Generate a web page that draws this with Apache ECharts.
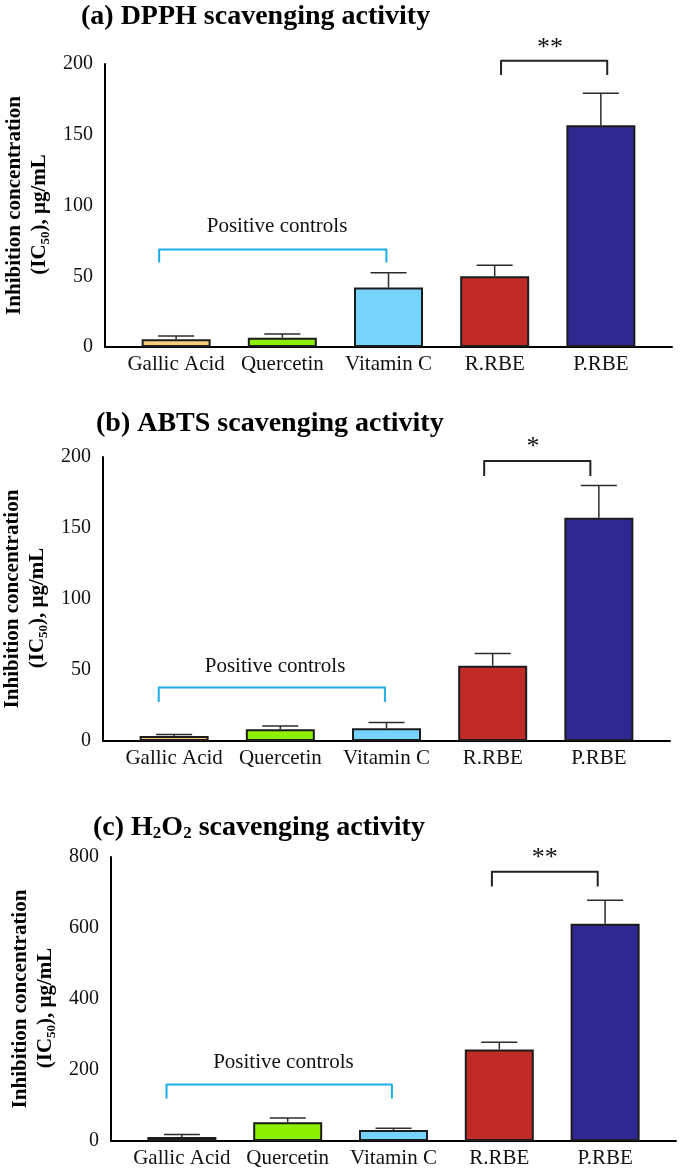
<!DOCTYPE html>
<html><head><meta charset="utf-8">
<script src="https://cdn.jsdelivr.net/npm/echarts@6/dist/echarts.min.js"></script>
<style>html,body{margin:0;padding:0;background:#fff}#c{width:680px;height:1170px}</style>
</head><body><div id="c"></div>
<script>
// ---------- data ----------
const categories = ['Gallic Acid', 'Quercetin', 'Vitamin C', 'R.RBE', 'P.RBE'];
const barColors = ['#FBCF7C', '#8DF000', '#76D4FC', '#C02A27', '#2E2891'];

const dpphMean = [5.5, 6.6, 42, 50, 156.8];
const dpphErr  = [2.3, 2.6, 10.4, 7.8, 22.5];
const abtsMean = [3.5, 8.2, 9, 53, 157.3];
const abtsErr  = [1.0, 2.4, 4.0, 8.7, 22.6];
const h2o2Mean = [11, 53, 31, 258, 612];
const h2o2Err  = [7, 12, 5, 20, 66];

const yMaxSmall = 200, yStepSmall = 50;
const yMaxBig = 800, yStepBig = 200;

// brackets: [xStart, xEnd, yBar, yLegEnd]
const dpphSig = [3.06, 4.06, 202.3, 192.2];
const abtsSig = [2.92, 3.92, 197.2, 186.6];
const h2o2Sig = [2.93, 3.93, 758.5, 717];
const dpphCtrl = [-0.16, 1.98, 68.9, 59.7];
const abtsCtrl = [-0.145, 1.985, 37.6, 27.5];
const h2o2Ctrl = [-0.145, 1.985, 159, 119.7];
// labels: [text, x, y]
const dpphSigText = ['**', 3.52, 211];
const abtsSigText = ['*', 3.38, 207];
const h2o2SigText = ['**', 3.43, 798];
const dpphCtrlText = ['Positive controls', 0.95, 85];
const abtsCtrlText = ['Positive controls', 0.95, 52.6];
const h2o2CtrlText = ['Positive controls', 0.96, 220];

const titles = [
  '(a) DPPH scavenging activity',
  '(b) ABTS scavenging activity',
  '{t|(c) H}{s|2}{t|O}{s|2}{t| scavenging activity}'
];

// ---------- helpers ----------
const FONT = 'Liberation Serif';
const panels = [
  {mean: dpphMean, err: dpphErr, max: yMaxSmall, step: yStepSmall, sig: dpphSig, sigText: dpphSigText, ctrl: dpphCtrl, ctrlText: dpphCtrlText,
   grid: {left: 105, top: 64, width: 567, height: 283}, title: {left: 81, top: 3}},
  {mean: abtsMean, err: abtsErr, max: yMaxSmall, step: yStepSmall, sig: abtsSig, sigText: abtsSigText, ctrl: abtsCtrl, ctrlText: abtsCtrlText,
   grid: {left: 103, top: 457, width: 567, height: 284}, title: {left: 96, top: 410}},
  {mean: h2o2Mean, err: h2o2Err, max: yMaxBig, step: yStepBig, sig: h2o2Sig, sigText: h2o2SigText, ctrl: h2o2Ctrl, ctrlText: h2o2CtrlText,
   grid: {left: 111, top: 857, width: 565, height: 284}, title: {left: 93, top: 813}}
];

function errRender(params, api) {
  const x = api.value(0), m = api.value(1), e = api.value(2);
  const p0 = api.coord([x, m]), p1 = api.coord([x, m + e]);
  const hw = 18;
  const st = {stroke: '#2b2b2b', lineWidth: 1.5};
  return {type: 'group', children: [
    {type: 'line', shape: {x1: p0[0], y1: p0[1], x2: p1[0], y2: p1[1]}, style: st},
    {type: 'line', shape: {x1: p1[0] - hw, y1: p1[1], x2: p1[0] + hw, y2: p1[1]}, style: st}
  ]};
}
function bracketRender(color) {
  return function (params, api) {
    const x1 = api.value(0), x2 = api.value(1), yt = api.value(2), yl = api.value(3);
    const pts = [api.coord([x1, yl]), api.coord([x1, yt]), api.coord([x2, yt]), api.coord([x2, yl])];
    return {type: 'polyline', shape: {points: pts}, style: {stroke: color, lineWidth: 2, fill: null, lineJoin: 'round'}};
  };
}
function textRender(label, fontSize) {
  return function (params, api) {
    const p = api.coord([label[1], label[2]]);
    return {type: 'text', x: p[0], y: p[1], style: {text: label[0], fill: '#111', align: 'center', verticalAlign: 'middle',
      font: fontSize + 'px "' + FONT + '"'}};
  };
}

const option = {
  animation: false,
  backgroundColor: '#fff',
  title: [], grid: [], xAxis: [], yAxis: [], series: []
};

panels.forEach((p, i) => {
  option.title.push({
    text: titles[i], left: p.title.left, top: p.title.top, padding: 0,
    textStyle: {fontFamily: FONT, fontWeight: 'bold', fontSize: 28, color: '#000',
      rich: {t: {fontFamily: FONT, fontWeight: 'bold', fontSize: 28, color: '#000'},
             s: {fontFamily: FONT, fontWeight: 'bold', fontSize: 17, color: '#000', verticalAlign: 'bottom', padding: [12, 0, 0, 0]}}}
  });
  option.grid.push(Object.assign({containLabel: false, outerBoundsMode: 'none'}, p.grid));
  option.xAxis.push({
    gridIndex: i, type: 'value', min: -0.67, max: 4.67,
    axisLine: {show: true, onZero: true, lineStyle: {color: '#000', width: 2}},
    axisTick: {show: false}, splitLine: {show: false},
    axisLabel: {customValues: [0, 1, 2, 3, 4], formatter: v => categories[Math.round(v)] || '',
      fontFamily: FONT, fontSize: 21, color: '#111', margin: 7}
  });
  option.yAxis.push({
    gridIndex: i, type: 'value', min: 0, max: p.max, interval: p.step,
    axisLine: {show: true, onZero: false, lineStyle: {color: '#000', width: 2}},
    axisTick: {show: false}, splitLine: {show: false},
    axisLabel: {fontFamily: FONT, fontSize: 20, color: '#111', margin: 12},
    name: '{a|Inhibition concentration}\n{b|(IC}{s|50}{e|), μg/mL}',
    nameLocation: 'middle', nameRotate: 90, nameGap: 50,
    nameTextStyle: {fontFamily: FONT, fontWeight: 'bold', fontSize: 21, color: '#000', lineHeight: 25,
      rich: {a: {fontFamily: FONT, fontWeight: 'bold', fontSize: 21, lineHeight: 25},
             b: {fontFamily: FONT, fontWeight: 'bold', fontSize: 21, lineHeight: 25},
             e: {fontFamily: FONT, fontWeight: 'bold', fontSize: 21, lineHeight: 25, padding: [0, 18, 0, 0]},
             s: {fontFamily: FONT, fontWeight: 'bold', fontSize: 13, lineHeight: 25, verticalAlign: 'bottom', padding: [7, 0, 0, 0]}}}
  });
  option.series.push({
    type: 'bar', xAxisIndex: i, yAxisIndex: i, barWidth: 69, z: 2,
    data: p.mean.map((v, k) => ({value: [k, v], itemStyle: {color: barColors[k]}})),
    itemStyle: {borderColor: '#1c1c1c', borderWidth: 2}
  });
  option.series.push({
    type: 'custom', xAxisIndex: i, yAxisIndex: i, z: 3, renderItem: errRender,
    data: p.mean.map((v, k) => [k, v, p.err[k]])
  });
  option.series.push({
    type: 'custom', xAxisIndex: i, yAxisIndex: i, z: 3, clip: false, renderItem: bracketRender('#222'),
    data: [p.sig]
  });
  option.series.push({
    type: 'custom', xAxisIndex: i, yAxisIndex: i, z: 3, clip: false, renderItem: bracketRender('#1BAEE8'),
    data: [p.ctrl]
  });
  option.series.push({
    type: 'custom', xAxisIndex: i, yAxisIndex: i, z: 4, clip: false, renderItem: textRender(p.sigText, 26),
    data: [[p.sigText[1], p.sigText[2]]]
  });
  option.series.push({
    type: 'custom', xAxisIndex: i, yAxisIndex: i, z: 4, clip: false, renderItem: textRender(p.ctrlText, 21),
    data: [[p.ctrlText[1], p.ctrlText[2]]]
  });
});

const chart = echarts.init(document.getElementById('c'), null, {renderer: 'canvas'});
chart.setOption(option);
</script>
</body></html>
